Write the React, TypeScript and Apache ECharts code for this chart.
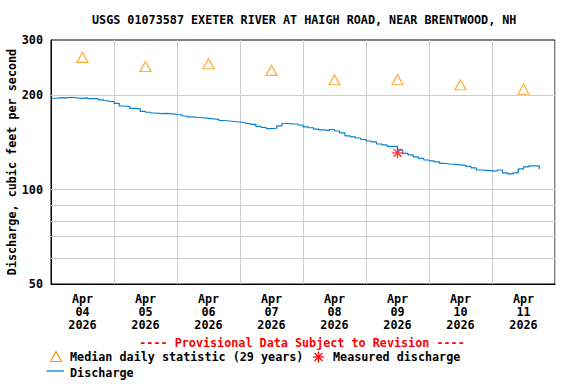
import React, { useEffect, useRef } from "react";
import * as echarts from "echarts";

// ---- data ----
const titleText = "USGS 01073587 EXETER RIVER AT HAIGH ROAD, NEAR BRENTWOOD, NH";
const monthLabel = "Apr";
const yearLabel = "2026";
const dayLabels = ["04", "05", "06", "07", "08", "09", "10", "11"];

// y-axis labels and grid lines (cfs, log scale)
const yTickLabels = [50, 100, 200, 300];
const yGridValues = [60, 70, 80, 90, 100, 200];

// discharge, every 2 hours starting Apr 04 00:00
const dischargeStepHours = 2;
const dischargeValues = [
  195.6, 196.5, 196.0, 197.0, 196.0, 195.5, 196.2, 195.0, 195.0, 193.2, 192.0, 191.0,
  188.5, 184.8, 184.0, 181.5, 181.0, 177.5, 176.5, 175.5, 174.6, 175.0, 174.3, 173.6,
  173.0, 171.7, 170.5, 169.8, 169.5, 168.8, 168.0, 167.5, 166.1, 165.5, 164.9, 164.3,
  163.7, 162.5, 161.5, 159.0, 157.8, 156.6, 156.9, 159.6, 162.5, 162.0, 161.9, 160.7,
  158.4, 157.5, 156.0, 155.0, 154.3, 155.5, 153.8, 151.6, 148.3, 147.2, 146.1, 144.5,
  142.9, 141.9, 139.8, 138.8, 137.3, 137.5, 133.8, 130.4, 129.0, 127.1, 125.7, 124.3,
  123.4, 122.5, 121.2, 120.7, 120.3, 119.9, 119.4, 118.6, 117.3, 115.5, 115.1, 114.7,
  114.7, 115.5, 113.0, 112.2, 113.0, 116.4, 118.1, 119.0, 119.0, 116.4,
];

// median daily statistic, at noon of each day
const medianHours = [12, 36, 60, 84, 108, 132, 156, 180];
const medianValues = [264, 247, 252, 240, 224, 224, 216, 209];

// measured discharge
const measuredHours = [132];
const measuredValues = [131];

const provisionalText = "---- Provisional Data Subject to Revision ----";
const legendMedian = "Median daily statistic (29 years)";
const legendMeasured = "Measured discharge";
const legendDischarge = "Discharge";

const FONT = "DejaVu Sans Mono";
const FS = 11.75;
const ORANGE = "#ff9900";
const BLUE = "#0a80d0";
const RED = "#ff0000";
const GRID = "#cccccc";

const lg = (v: number) => Math.log10(v);

export default function App() {
  const ref = useRef<HTMLDivElement>(null);

  useEffect(() => {
    document.body.style.margin = "0";
    if (!ref.current) return;
    const chart = echarts.init(ref.current, undefined, { renderer: "svg" });

    const discharge = dischargeValues.map((v, i) => [i * dischargeStepHours, lg(v)]);
    const median = medianValues.map((v, i) => [medianHours[i], lg(v)]);
    const measured = measuredValues.map((v, i) => [measuredHours[i], lg(v)]);
    const categories = dayLabels.map((d) => `${monthLabel}\n${d}\n${yearLabel}`);

    const textBase = { fontFamily: FONT, fontSize: FS, fontWeight: "bold" as const, color: "#000" };

    const asterisk =
      "path://M0,-5L0,5M-5,0L5,0M-3.6,-3.6L3.6,3.6M-3.6,3.6L3.6,-3.6";

    chart.setOption({
      animation: false,
      backgroundColor: "#fff",
      title: {
        text: titleText,
        left: 92,
        top: 13.5,
        padding: 0,
        textStyle: { ...textBase, lineHeight: 13 },
      },
      grid: {
        left: 51,
        top: 40,
        width: 504,
        height: 244,
        show: true,
        borderColor: "#000",
        borderWidth: 1,
        backgroundColor: "transparent",
        containLabel: false,
        outerBoundsMode: "none",
      },
      xAxis: [
        {
          type: "category",
          data: categories,
          boundaryGap: true,
          axisLine: { show: true, lineStyle: { color: "#000", width: 1 } },
          axisTick: { show: false },
          splitLine: { show: true, lineStyle: { color: GRID, width: 1 } },
          axisLabel: { ...textBase, interval: 0, lineHeight: 13, margin: 8 },
        },
        {
          type: "value",
          min: 0,
          max: 192,
          show: false,
          splitLine: { show: false },
        },
      ],
      yAxis: {
        type: "value",
        min: lg(50),
        max: lg(300),
        name: "Discharge, cubic feet per second",
        nameLocation: "middle",
        nameRotate: 90,
        nameGap: 33,
        nameMoveOverlap: false,
        nameTextStyle: { ...textBase },
        axisLine: { show: true, lineStyle: { color: "#000", width: 1 } },
        axisTick: { show: false },
        splitLine: { show: false },
        axisLabel: {
          ...textBase,
          margin: 8,
          customValues: yTickLabels.map(lg),
          formatter: (v: number) => String(Math.round(Math.pow(10, v))),
        },
      },
      series: [
        {
          type: "line",
          name: "grid",
          xAxisIndex: 1,
          data: [],
          z: 1,
          silent: true,
          markLine: {
            silent: true,
            symbol: "none",
            label: { show: false },
            lineStyle: { color: GRID, width: 1, type: "solid" },
            data: yGridValues.map((v) => ({ yAxis: lg(v) })),
          },
        },
        {
          type: "line",
          name: legendDischarge,
          xAxisIndex: 1,
          data: discharge,
          showSymbol: false,
          symbol: "none",
          step: "end",
          lineStyle: { color: BLUE, width: 1.2 },
          z: 3,
        },
        {
          type: "scatter",
          name: legendMedian,
          xAxisIndex: 1,
          data: median,
          symbol: "triangle",
          symbolSize: [11, 10],
          itemStyle: { color: "transparent", borderColor: ORANGE, borderWidth: 1.2 },
          z: 4,
        },
        {
          type: "scatter",
          name: legendMeasured,
          xAxisIndex: 1,
          data: measured,
          symbol: asterisk,
          symbolSize: 11,
          itemStyle: { color: "none", borderColor: RED, borderWidth: 1.3 },
          z: 5,
        },
      ],
      graphic: [
        {
          type: "text",
          x: 302,
          y: 343,
          style: {
            text: provisionalText,
            fill: RED,
            font: `bold ${FS}px "${FONT}"`,
            textAlign: "center",
            textVerticalAlign: "middle",
          },
        },
        {
          type: "polygon",
          shape: { points: [[50.5, 361.5], [56, 351.5], [61.5, 361.5]] },
          style: { fill: "none", stroke: ORANGE, lineWidth: 1.2 },
        },
        {
          type: "text",
          x: 70,
          y: 357,
          style: {
            text: legendMedian,
            fill: "#000",
            font: `bold ${FS}px "${FONT}"`,
            textVerticalAlign: "middle",
          },
        },
        ...[
          [0, -5.5, 0, 5.5],
          [-5.5, 0, 5.5, 0],
          [-4, -4, 4, 4],
          [-4, 4, 4, -4],
        ].map(([x1, y1, x2, y2]) => ({
          type: "line",
          shape: { x1: 318.5 + x1, y1: 357 + y1, x2: 318.5 + x2, y2: 357 + y2 },
          style: { stroke: RED, lineWidth: 1.3 },
        })),
        {
          type: "text",
          x: 333,
          y: 357,
          style: {
            text: legendMeasured,
            fill: "#000",
            font: `bold ${FS}px "${FONT}"`,
            textVerticalAlign: "middle",
          },
        },
        {
          type: "line",
          shape: { x1: 46.5, y1: 371, x2: 64, y2: 371 },
          style: { stroke: BLUE, lineWidth: 1.3 },
        },
        {
          type: "text",
          x: 70,
          y: 373,
          style: {
            text: legendDischarge,
            fill: "#000",
            font: `bold ${FS}px "${FONT}"`,
            textVerticalAlign: "middle",
          },
        },
      ],
    });

    return () => chart.dispose();
  }, []);

  return <div ref={ref} style={{ width: 576, height: 384 }} />;
}
